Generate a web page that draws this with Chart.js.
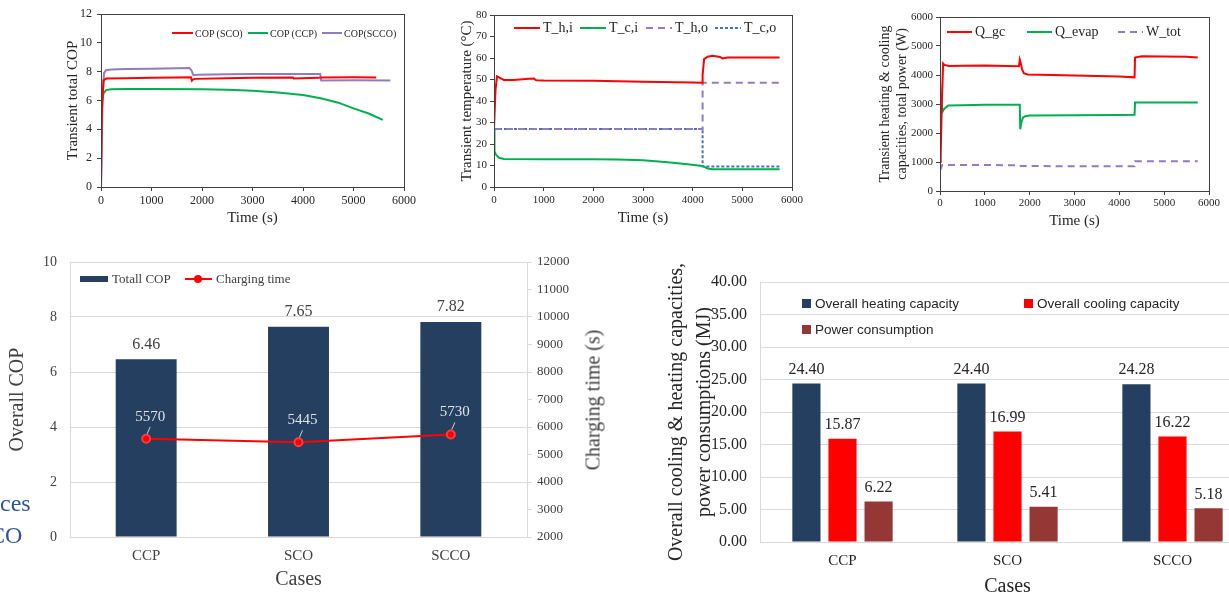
<!DOCTYPE html>
<html>
<head>
<meta charset="utf-8">
<script src="https://cdn.jsdelivr.net/npm/chart.js@4.4.1/dist/chart.umd.min.js"></script>
<style>
  html, body { margin: 0; padding: 0; background: #fff; }
  body { width: 1229px; height: 595px; overflow: hidden; position: relative; font-family: 'Liberation Serif', serif; }
  canvas { position: absolute; }
  .lg { position: absolute; white-space: nowrap; line-height: 1; transform: translateY(-50%); }
  .frag { position: absolute; color: #2f5597; font: 24px 'Liberation Serif', serif; line-height: 1; transform: translateY(-50%); }
  .rtitle { position: absolute; white-space: nowrap; line-height: 1; color: #404040; font: 20px 'Liberation Serif', serif; transform: translate(-50%, -50%) rotate(-90deg); }
</style>
</head>
<body>
<canvas id="c1" width="370" height="232" style="left:50px;top:0px"></canvas>
<canvas id="c2" width="370" height="232" style="left:440px;top:0px"></canvas>
<canvas id="c3" width="369" height="232" style="left:860px;top:0px"></canvas>
<canvas id="c4" width="620" height="345" style="left:0px;top:250px"></canvas>
<canvas id="c5" width="620" height="350" style="left:640px;top:250px"></canvas>
<div class="frag" style="left:0px;top:503px">ces</div>
<div class="frag" style="left:-11px;top:535px">CO</div>
<div class="rtitle" style="left:593px;top:400px">Charging time (s)</div>
<script>
// --- transient COP (top left) ---
const scoT  = [0, 20, 50, 100, 500, 1000, 1500, 1780, 1800, 1820, 1860, 2500, 3000, 3800, 3820, 4300, 4360, 5000, 5450];
const scoV  = [0, 5.5, 7.4, 7.52, 7.55, 7.58, 7.6, 7.62, 7.38, 7.45, 7.5, 7.55, 7.57, 7.6, 7.53, 7.57, 7.6, 7.62, 7.6];
const ccpT  = [0, 20, 50, 100, 200, 500, 1000, 2000, 2500, 3000, 3500, 4000, 4350, 4700, 5000, 5300, 5580];
const ccpV  = [5.1, 5.9, 6.5, 6.72, 6.78, 6.8, 6.8, 6.78, 6.75, 6.68, 6.55, 6.38, 6.15, 5.85, 5.45, 5.1, 4.65];
const sccoT = [0, 30, 60, 100, 200, 500, 1000, 1500, 1750, 1790, 1830, 1900, 2500, 3000, 4000, 4340, 4360, 5000, 5730];
const sccoV = [0, 6.0, 7.9, 8.1, 8.15, 8.18, 8.2, 8.23, 8.26, 8.1, 7.75, 7.78, 7.82, 7.84, 7.84, 7.84, 7.38, 7.4, 7.38];

// --- transient temperatures (top middle) ---
const thiT = [0, 30, 60, 100, 200, 400, 700, 800, 850, 1000, 2000, 3000, 4000, 4190, 4200, 4230, 4300, 4400, 4550, 4600, 4700, 5000, 5750];
const thiV = [27, 45, 51.5, 51, 49.8, 49.8, 50.3, 50.5, 49.6, 49.5, 49.4, 49, 48.6, 48.5, 52, 59.5, 60.6, 61, 60.5, 59.8, 60.2, 60.2, 60.2];
const tciT = [0, 10, 40, 100, 200, 1000, 2000, 2500, 3000, 3500, 3900, 4200, 4300, 4400, 5000, 5750];
const tciV = [27, 16.5, 15, 13.6, 13, 12.9, 12.9, 12.8, 12.4, 11.5, 10.6, 9.8, 8.6, 8.3, 8.3, 8.3];
const thoT = [0, 4200, 4200, 5750];
const thoV = [27, 27, 48.5, 48.5];
const tcoT = [0, 4200, 4200, 5750];
const tcoV = [27, 27, 9.5, 9.5];

// --- transient capacities / power (top right) ---
const qgcT = [0, 15, 40, 70, 100, 200, 500, 1000, 1500, 1760, 1780, 1800, 1830, 1870, 1950, 2500, 3000, 4000, 4340, 4350, 4500, 5000, 5500, 5750];
const qgcV = [1000, 1200, 3000, 4400, 4350, 4310, 4320, 4330, 4310, 4300, 4530, 4420, 4200, 4060, 4020, 4000, 3980, 3950, 3920, 4600, 4650, 4640, 4630, 4600];
const qevT = [0, 30, 60, 100, 185, 500, 1000, 1500, 1780, 1790, 1820, 1850, 1900, 2000, 3000, 4000, 4340, 4350, 5000, 5750];
const qevV = [3700, 3000, 2750, 2850, 2950, 2960, 2970, 2970, 2970, 2130, 2400, 2530, 2580, 2600, 2610, 2620, 2630, 3050, 3050, 3050];
const wtT  = [0, 50, 1780, 1800, 4340, 4350, 5750];
const wtV  = [700, 900, 890, 860, 850, 1030, 1030];

// --- overall results (bottom) ---
const cases = ['CCP', 'SCO', 'SCCO'];
const totalCop = [6.46, 7.65, 7.82];
const chargingTime = [5570, 5445, 5730];
const heatingCap = [24.40, 24.40, 24.28];
const coolingCap = [15.87, 16.99, 16.22];
const powerCons = [6.22, 5.41, 5.18];

const SERIF = "'Liberation Serif', serif";
const NAVY = '#243f60';
const GRID = '#d9d9d9';
Chart.defaults.font.family = SERIF;
Chart.defaults.color = '#262626';
Chart.defaults.animation = false;

const pts = (xs, ys) => xs.map((x, i) => ({ x, y: ys[i] }));
const plain = v => String(v);

// box around the plot area for the transient charts
const framePlugin = {
    id: 'frame',
    afterDatasetsDraw(chart) {
        const a = chart.chartArea, ctx = chart.ctx;
        ctx.save();
        ctx.strokeStyle = '#404040';
        ctx.lineWidth = 1;
        ctx.strokeRect(Math.round(a.left) + 0.5, Math.round(a.top) + 0.5, Math.round(a.right - a.left), Math.round(a.bottom - a.top));
        ctx.restore();
    }
};

// value labels above bars / points
const valueLabels = {
    id: 'valueLabels',
    afterDatasetsDraw(chart) {
        const ctx = chart.ctx;
        chart.data.datasets.forEach((ds, i) => {
            const st = ds.labelStyle;
            if (!st) return;
            const meta = chart.getDatasetMeta(i);
            ctx.save();
            ctx.font = st.font;
            ctx.fillStyle = st.color;
            ctx.textAlign = 'center';
            ctx.textBaseline = 'middle';
            meta.data.forEach((el, j) => {
                const v = ds.data[j];
                const txt = st.digits != null ? v.toFixed(st.digits) : String(v);
                ctx.fillText(txt, el.x + (st.dx || 0), el.y - st.dy);
                if (st.leader) {
                    ctx.strokeStyle = st.leader;
                    ctx.lineWidth = 1;
                    ctx.beginPath();
                    ctx.moveTo(el.x + 4, el.y - st.dy + 10);
                    ctx.lineTo(el.x + 1, el.y - 5);
                    ctx.stroke();
                }
            });
            ctx.restore();
        });
    }
};

function lineSet(data, color, dash) {
    return { data, borderColor: color, borderWidth: 2, pointRadius: 0, borderDash: dash || [], tension: 0, fill: false };
}

function timeChart(id, datasets, yMax, yStep, yTitle, o) {
    new Chart(document.getElementById(id), {
        type: 'line',
        data: { datasets },
        options: {
            responsive: false,
            layout: { padding: { top: o.top, right: o.right, left: 0, bottom: 0 } },
            plugins: { legend: { display: false }, tooltip: { enabled: false } },
            scales: {
                x: {
                    type: 'linear', min: 0, max: 6000,
                    afterFit: s => { s.height = o.xh; },
                    ticks: { stepSize: 1000, font: { size: o.tick }, padding: o.xtp, maxRotation: 0, color: '#262626', callback: plain },
                    grid: { drawOnChartArea: false, tickLength: 4, color: '#404040' },
                    border: { color: '#404040' },
                    title: { display: true, text: 'Time (s)', font: { size: 15 }, padding: { top: 0, bottom: o.xtitle } }
                },
                y: {
                    min: 0, max: yMax,
                    afterFit: s => { s.width = o.yw; },
                    ticks: { stepSize: yStep, font: { size: o.tick }, padding: o.ytp, color: '#262626', callback: plain },
                    grid: { drawOnChartArea: false, tickLength: 4, color: '#404040' },
                    border: { color: '#404040' },
                    title: { display: true, text: yTitle, font: { size: o.ytsize }, padding: { top: o.ytitle, bottom: 0 } }
                }
            }
        },
        plugins: [framePlugin]
    });
}

timeChart('c1', [
    lineSet(pts(scoT, scoV), '#ff0000'),
    lineSet(pts(ccpT, ccpV), '#00b050'),
    lineSet(pts(sccoT, sccoV), '#8f7cc2')
], 12, 2, 'Transient total COP',
    { top: 14, right: 16, xh: 45, yw: 51, tick: 12, xtp: 3, ytp: 5, xtitle: 5, ytitle: 14, ytsize: 15 });

timeChart('c2', [
    lineSet(pts(thiT, thiV), '#ff0000'),
    lineSet(pts(tciT, tciV), '#00b050'),
    lineSet(pts(thoT, thoV), '#8f7cc2', [7, 5]),
    lineSet(pts(tcoT, tcoV), '#4472c4', [3, 2])
], 80, 10, 'Transient temperature (°C)',
    { top: 15, right: 18, xh: 45, yw: 54, tick: 11, xtp: 3, ytp: 3, xtitle: 5, ytitle: 18, ytsize: 15 });

timeChart('c3', [
    lineSet(pts(qgcT, qgcV), '#ff0000'),
    lineSet(pts(qevT, qevV), '#00b050'),
    lineSet(pts(wtT, wtV), '#8f7cc2', [7, 5])
], 6000, 1000, ['Transient heating & cooling', 'capacities, total power (W)'],
    { top: 17, right: 20, xh: 41, yw: 80, tick: 11, xtp: 2, ytp: 3, xtitle: 2, ytitle: 17, ytsize: 14 });

// --- Overall COP & charging time ---
new Chart(document.getElementById('c4'), {
    type: 'bar',
    data: {
        labels: cases,
        datasets: [
            {
                type: 'line', data: chargingTime, yAxisID: 'y1', order: 0,
                borderColor: '#ff0000', backgroundColor: '#ff0000', borderWidth: 2,
                pointRadius: 4, pointBorderColor: '#ff3b3b',
                labelStyle: { font: '15px ' + SERIF, color: '#dfe4ec', dy: 22, dx: 4, leader: '#c9d0da' }
            },
            {
                type: 'bar', data: totalCop, yAxisID: 'y', order: 1,
                backgroundColor: NAVY, barPercentage: 0.4, categoryPercentage: 1,
                labelStyle: { font: '16px ' + SERIF, color: '#404040', dy: 15, digits: 2 }
            }
        ]
    },
    options: {
        responsive: false,
        layout: { padding: { top: 12, right: 0, left: 0, bottom: 0 } },
        plugins: { legend: { display: false }, tooltip: { enabled: false } },
        scales: {
            x: {
                afterFit: s => { s.height = 58; },
                ticks: { font: { size: 15 }, padding: 10, color: '#404040' },
                grid: { drawOnChartArea: false, drawTicks: false, color: GRID },
                border: { color: GRID },
                title: { display: true, text: 'Cases', font: { size: 20 }, color: '#404040', padding: { top: 0, bottom: 3 } }
            },
            y: {
                position: 'left', min: 0, max: 10,
                afterFit: s => { s.width = 70; s.paddingTop = 0; s.paddingBottom = 0; },
                ticks: { stepSize: 2, font: { size: 14 }, padding: 13, color: '#404040' },
                grid: { color: GRID, drawTicks: false },
                border: { color: GRID },
                title: { display: true, text: 'Overall COP', font: { size: 20 }, color: '#404040', padding: { top: 6, bottom: 0 } }
            },
            y1: {
                position: 'right', min: 2000, max: 12000,
                afterFit: s => { s.width = 93; s.paddingTop = 0; s.paddingBottom = 0; },
                ticks: { stepSize: 1000, font: { size: 13 }, padding: 5, color: '#404040', callback: plain },
                grid: { drawOnChartArea: false, tickLength: 5, color: GRID },
                border: { color: GRID }
            }
        }
    },
    plugins: [valueLabels]
});

// --- Overall capacities & power ---
const barLbl = { font: '16px ' + SERIF, color: '#262626', dy: 14, digits: 2 };
new Chart(document.getElementById('c5'), {
    type: 'bar',
    data: {
        labels: cases,
        datasets: [
            { data: heatingCap, backgroundColor: NAVY, labelStyle: barLbl },
            { data: coolingCap, backgroundColor: '#ff0000', labelStyle: barLbl },
            { data: powerCons, backgroundColor: '#953735', labelStyle: barLbl }
        ]
    },
    options: {
        responsive: false,
        layout: { padding: { top: 32, right: 5, left: 0, bottom: 0 } },
        datasets: { bar: { barPercentage: 0.78, categoryPercentage: 0.656 } },
        plugins: { legend: { display: false }, tooltip: { enabled: false } },
        scales: {
            x: {
                afterFit: s => { s.height = 58; },
                ticks: { font: { size: 15 }, padding: 10, color: '#262626' },
                grid: { drawOnChartArea: false, drawTicks: false, color: GRID },
                border: { color: GRID },
                title: { display: true, text: 'Cases', font: { size: 20 }, padding: { top: 0, bottom: 1 } }
            },
            y: {
                min: 0, max: 40,
                afterFit: s => { s.width = 120; },
                ticks: { stepSize: 5, font: { size: 16 }, padding: 13, color: '#262626', callback: v => v.toFixed(2) },
                grid: { color: GRID, drawTicks: false },
                border: { color: GRID },
                title: {
                    display: true,
                    text: ['Overall cooling & heating capacities,', 'power consumptions (MJ)'],
                    font: { size: 20, lineHeight: 1.4 },
                    padding: { top: 23, bottom: 0 }
                }
            }
        }
    },
    plugins: [valueLabels]
});

// --- legends (drawn as page elements inside the plot areas) ---
function addBox(x, y, w, h, css) {
    const d = document.createElement('div');
    d.style.cssText = `position:absolute;left:${x}px;top:${y - h / 2}px;width:${w}px;height:${h}px;${css}`;
    document.body.appendChild(d);
}
function addText(x, y, text, font, color) {
    const d = document.createElement('div');
    d.className = 'lg';
    d.style.left = x + 'px';
    d.style.top = y + 'px';
    d.style.font = font;
    d.style.color = color || '#262626';
    d.textContent = text;
    document.body.appendChild(d);
}
const solid = c => `background:${c};`;
const dashed = (c, on, off) => `background:repeating-linear-gradient(90deg, ${c} 0 ${on}px, transparent ${on}px ${on + off}px);`;

// chart 1
addBox(172, 33, 21, 2, solid('#ff0000'));  addText(195, 33, 'COP (SCO)', '10px ' + SERIF);
addBox(248, 33, 20, 2, solid('#00b050'));  addText(270, 33, 'COP (CCP)', '10px ' + SERIF);
addBox(322, 33, 20, 2, solid('#8f7cc2'));  addText(344, 33, 'COP(SCCO)', '10px ' + SERIF);
// chart 2
addBox(514, 28, 26, 2, solid('#ff0000'));  addText(543, 28, 'T_h,i', '14px ' + SERIF);
addBox(580, 28, 26, 2, solid('#00b050'));  addText(609, 28, 'T_c,i', '14px ' + SERIF);
addBox(646, 28, 26, 2, dashed('#8f7cc2', 7, 5)); addText(675, 28, 'T_h,o', '14px ' + SERIF);
addBox(715, 28, 26, 2, dashed('#4472c4', 3, 2)); addText(744, 28, 'T_c,o', '14px ' + SERIF);
// chart 3
addBox(947, 32, 25, 2, solid('#ff0000'));  addText(975, 32, 'Q_gc', '14px ' + SERIF);
addBox(1027, 32, 25, 2, solid('#00b050')); addText(1055, 32, 'Q_evap', '14px ' + SERIF);
addBox(1118, 32, 25, 2, dashed('#8f7cc2', 7, 5)); addText(1146, 32, 'W_tot', '14px ' + SERIF);
// chart 4
addBox(80, 279, 28, 6, solid(NAVY));        addText(112, 279, 'Totall COP', '13px ' + SERIF, '#404040');
addBox(185, 279, 27, 2, solid('#ff0000'));
addBox(194, 279, 8, 8, solid('#ff0000') + 'border-radius:50%;');
addText(216, 279, 'Charging time', '13px ' + SERIF, '#404040');
// chart 5
const SANS = "'Liberation Sans', sans-serif";
addBox(802, 303, 9, 9, solid(NAVY));       addText(815, 303, 'Overall heating capacity', '13.5px ' + SANS);
addBox(1024, 303, 9, 9, solid('#ff0000')); addText(1037, 303, 'Overall cooling capacity', '13.5px ' + SANS);
addBox(802, 329, 9, 9, solid('#953735'));  addText(815, 329, 'Power consumption', '13.5px ' + SANS);
</script>
</body>
</html>
